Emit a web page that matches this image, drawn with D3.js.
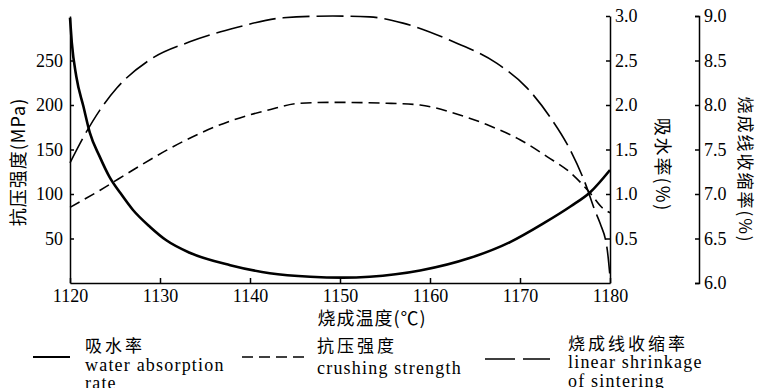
<!DOCTYPE html>
<html>
<head>
<meta charset="utf-8">
<script src="https://cdn.jsdelivr.net/npm/d3@7"></script>
<style>
body { margin: 0; background: #fff; }
svg { display: block; }
.tick text { font-family: "Liberation Serif", serif; font-size: 18px; fill: #000; }
.domain, .tick line { stroke: #000; stroke-width: 1.5; }
.zh { font-family: "Noto Sans CJK SC", sans-serif; fill: #000; }
.en { font-family: "Liberation Serif", serif; font-size: 18px; letter-spacing: 1.2px; fill: #000; }
</style>
</head>
<body>
<svg id="chart" width="759" height="388"></svg>
<script>
// values
var xTicks = [1120, 1130, 1140, 1150, 1160, 1170, 1180];
var strengthTicks = [50, 100, 150, 200, 250];
var waterTicks = [0.5, 1.0, 1.5, 2.0, 2.5, 3.0];
var shrinkTicks = [6.0, 6.5, 7.0, 7.5, 8.0, 8.5, 9.0];

var waterTemp = [1120, 1120.2, 1120.7, 1121.5, 1122.2, 1123.3, 1124.4, 1125.6, 1127, 1128.9, 1130.7, 1133.3,
    1137.8, 1142.2, 1146.7, 1150.3, 1153.3, 1158.9, 1164.4, 1168.9, 1172.6, 1175.6, 1177.8, 1180];
var waterRate = [2.98, 2.70, 2.32, 1.98, 1.69, 1.42, 1.19, 1.01, 0.82, 0.63, 0.48, 0.34,
    0.20, 0.11, 0.07, 0.06, 0.07, 0.14, 0.28, 0.46, 0.67, 0.86, 1.02, 1.27];

var strengthTemp = [1120, 1123.3, 1127, 1130.7, 1134.4, 1138.1, 1141.9, 1145.6, 1149.2, 1155.2,
    1158.9, 1162.6, 1166.3, 1170, 1173, 1175.6, 1177.8, 1179.2, 1180];
var strengthValue = [85, 104, 127, 149, 168, 183, 194, 202, 203, 202,
    200, 191, 178, 161, 142, 124, 101, 84, 79];

var shrinkTemp = [1120, 1121.5, 1123.3, 1125.2, 1128.9, 1133.3, 1138.5, 1143.7, 1149.2, 1153.3, 1157,
    1162.6, 1167.4, 1170.8, 1173.3, 1175.6, 1177.4, 1178.3, 1178.9, 1179.7, 1180];
var shrinkValue = [7.35, 7.64, 7.94, 8.19, 8.51, 8.71, 8.87, 8.98, 9.0, 8.99, 8.92,
    8.71, 8.47, 8.19, 7.87, 7.49, 7.08, 6.82, 6.67, 6.37, 6.07];

var legendZh = ['吸水率', '抗压强度', '烧成线收缩率'];
var legendEn = [['water absorption', 'rate'], ['crushing strength'], ['linear shrinkage', 'of sintering']];

var plotLeft = 70, plotRight = 610, plotTop = 16, plotBottom = 283;

var svg = d3.select('#chart');

var x = d3.scaleLinear().domain([1120, 1180]).range([plotLeft, plotRight]);
var yStrength = d3.scaleLinear().domain([0, 300]).range([plotBottom, plotTop]);
var yWater = d3.scaleLinear().domain([0, 3]).range([plotBottom, plotTop]);
var yShrink = d3.scaleLinear().domain([6, 9]).range([plotBottom, plotTop]);

// axes
svg.append('g')
    .attr('transform', 'translate(0,' + plotBottom + ')')
    .call(d3.axisBottom(x).tickValues(xTicks).tickFormat(d3.format('d'))
        .tickSizeInner(-5).tickSizeOuter(0).tickPadding(6));

svg.append('g')
    .attr('transform', 'translate(' + plotLeft + ',0)')
    .call(d3.axisLeft(yStrength).tickValues(strengthTicks)
        .tickSizeInner(-4).tickSizeOuter(0).tickPadding(7));

svg.append('g')
    .attr('transform', 'translate(' + plotRight + ',0)')
    .call(d3.axisRight(yWater).tickValues(waterTicks).tickFormat(d3.format('.1f'))
        .tickSizeInner(-4).tickSizeOuter(0).tickPadding(5));

svg.append('g')
    .attr('transform', 'translate(699,0)')
    .call(d3.axisRight(yShrink).tickValues(shrinkTicks).tickFormat(d3.format('.1f'))
        .tickSizeInner(-4).tickSizeOuter(-4).tickPadding(5));

// axis titles
svg.append('text').attr('class', 'zh')
    .attr('transform', 'translate(19,162) rotate(-90)')
    .attr('text-anchor', 'middle').attr('dy', '0.35em')
    .style('font-size', '18px').style('letter-spacing', '1px')
    .text('抗压强度(MPa)');

svg.append('text').attr('class', 'zh')
    .attr('transform', 'translate(662,165) rotate(90)')
    .attr('text-anchor', 'middle').attr('dy', '0.35em')
    .style('font-size', '18px').style('letter-spacing', '2px')
    .text('吸水率(%)');

svg.append('text').attr('class', 'zh')
    .attr('transform', 'translate(745,170) rotate(90)')
    .attr('text-anchor', 'middle').attr('dy', '0.35em')
    .style('font-size', '17px').style('letter-spacing', '2px')
    .text('烧成线收缩率(%)');

svg.append('text').attr('class', 'zh')
    .attr('x', 372).attr('y', 325)
    .attr('text-anchor', 'middle')
    .style('font-size', '18px').style('letter-spacing', '1px')
    .text('烧成温度(℃)');

// curves
function drawCurve(temps, values, yScale, width, dash) {
    var pts = temps.map(function(t, i) { return [x(t), yScale(values[i])]; });
    svg.append('path')
        .attr('d', d3.line().curve(d3.curveMonotoneX)(pts))
        .attr('fill', 'none')
        .attr('stroke', '#000')
        .attr('stroke-width', width)
        .attr('stroke-dasharray', dash);
}

drawCurve(strengthTemp, strengthValue, yStrength, 1.6, '11,6');
drawCurve(shrinkTemp, shrinkValue, yShrink, 1.6, '27,7');
drawCurve(waterTemp, waterRate, yWater, 2.6, null);

// legend
var legendItems = [
    { x1: 33, x2: 70, ly: 357, tx: 85, zhY: 352, enY: [371, 389], width: 2, dash: null },
    { x1: 242, x2: 307, ly: 357, tx: 317, zhY: 352, enY: [374], width: 1.6, dash: '11,6' },
    { x1: 485, x2: 550, ly: 359, tx: 568, zhY: 350, enY: [368, 387], width: 1.6, dash: '30,8' }
];

legendItems.forEach(function(d, i) {
    svg.append('line')
        .attr('x1', d.x1).attr('x2', d.x2).attr('y1', d.ly).attr('y2', d.ly)
        .attr('stroke', '#000').attr('stroke-width', d.width)
        .attr('stroke-dasharray', d.dash);
    svg.append('text').attr('class', 'zh')
        .attr('x', d.tx).attr('y', d.zhY)
        .style('font-size', '17px').style('letter-spacing', '3px')
        .text(legendZh[i]);
    legendEn[i].forEach(function(line, j) {
        svg.append('text').attr('class', 'en')
            .attr('x', d.tx).attr('y', d.enY[j])
            .text(line);
    });
});
</script>
</body>
</html>
